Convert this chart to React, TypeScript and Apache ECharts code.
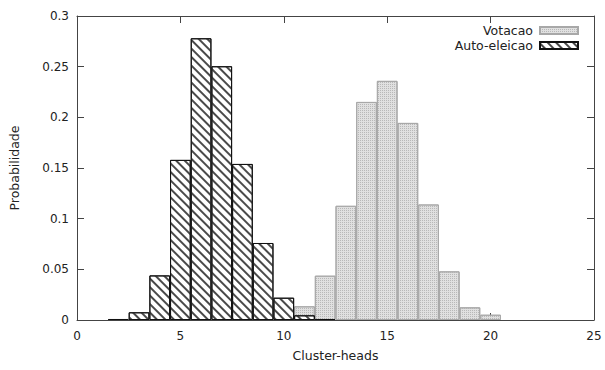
import React, { useEffect, useRef } from "react";
import * as echarts from "echarts";

const votacaoX = [11, 12, 13, 14, 15, 16, 17, 18, 19, 20];
const votacaoY = [0.0135, 0.0437, 0.1127, 0.2152, 0.236, 0.1945, 0.114, 0.048, 0.0125, 0.0052];
const autoX = [2, 3, 4, 5, 6, 7, 8, 9, 10, 11, 12];
const autoY = [0.001, 0.0076, 0.044, 0.158, 0.278, 0.2504, 0.154, 0.076, 0.022, 0.0046, 0.001];
const xTicks = { min: 0, max: 25, interval: 5 };
const yTicks = { min: 0, max: 0.3, interval: 0.05 };

const FONT = "DejaVu Sans";

export default function App() {
  const ref = useRef<HTMLDivElement>(null);
  useEffect(() => {
    if (!ref.current) return;
    const chart = echarts.init(ref.current, null, { renderer: "svg" });
    const gridLeft = 77, gridRight = 11;
    const unit = (605 - gridLeft - gridRight) / (xTicks.max - xTicks.min);
    const axisColor = "#444";
    const textStyle = { color: "#222", fontFamily: FONT, fontSize: 12 };
    const bigText = { ...textStyle, fontSize: 12.5 };
    const votDecal = {
      symbol: "rect",
      symbolSize: 1,
      color: "#b8b8b8",
      dashArrayX: [1, 1],
      dashArrayY: [1, 1],
      rotation: 0,
    };
    const autoDecal = {
      symbol: "rect",
      symbolSize: 1,
      color: "#4a4a4a",
      dashArrayX: [1, 0],
      dashArrayY: [1.2, 3.9],
      rotation: Math.PI / 4,
    };
    const baseX = {
      type: "value" as const,
      ...xTicks,
      axisLine: { show: true, onZero: false, lineStyle: { color: axisColor, width: 1 } },
      axisTick: { show: true, inside: true, length: 7, lineStyle: { color: axisColor } },
      splitLine: { show: false },
    };
    const baseY = {
      type: "value" as const,
      ...yTicks,
      axisLine: { show: true, onZero: false, lineStyle: { color: axisColor, width: 1 } },
      axisTick: { show: true, inside: true, length: 7, lineStyle: { color: axisColor } },
      splitLine: { show: false },
    };
    const legendBase = {
      orient: "vertical",
      align: "right",
      right: 26,
      itemWidth: 38,
      itemHeight: 7,
      itemGap: 0,
      padding: 0,
      icon: "rect",
      textStyle: { ...bigText, padding: [0, 2, 0, 0] },
      selectedMode: false,
    };
    chart.setOption({
      animation: false,
      backgroundColor: "#fff",
      textStyle: { fontFamily: FONT },
      grid: { left: gridLeft, right: gridRight, top: 16, bottom: 50 },
      legend: [
        { ...legendBase, data: ["Votacao"], top: 24 },
        { ...legendBase, data: ["Auto-eleicao"], top: 39 },
      ],
      xAxis: [
        {
          ...baseX,
          position: "bottom",
          name: "Cluster-heads",
          nameLocation: "middle",
          nameGap: 29,
          nameTextStyle: bigText,
          axisLabel: { ...textStyle, margin: 10 },
        },
        {
          ...baseX,
          position: "top",
          axisLabel: { show: false },
        },
      ],
      yAxis: [
        {
          ...baseY,
          position: "left",
          name: "Probabilidade",
          nameLocation: "middle",
          nameGap: 56,
          nameTextStyle: bigText,
          axisLabel: { ...textStyle, margin: 8 },
        },
        {
          ...baseY,
          position: "right",
          axisLabel: { show: false },
        },
      ],
      series: [
        {
          name: "Votacao",
          type: "bar",
          xAxisIndex: 0,
          yAxisIndex: 0,
          barWidth: unit,
          barGap: "-100%",
          data: votacaoX.map((x, i) => [x, votacaoY[i]]),
          itemStyle: {
            color: "#e0e0e0",
            borderColor: "#a8a8a8",
            borderWidth: 1,
            decal: votDecal,
          },
        },
        {
          name: "Auto-eleicao",
          type: "bar",
          xAxisIndex: 0,
          yAxisIndex: 0,
          barWidth: unit,
          barGap: "-100%",
          data: autoX.map((x, i) => [x, autoY[i]]),
          itemStyle: {
            color: "#fff",
            borderColor: "#111",
            borderWidth: 1,
            decal: autoDecal,
          },
        },
      ],
    });
    return () => chart.dispose();
  }, []);
  return (
    <div
      ref={ref}
      style={{ position: "fixed", left: 0, top: 0, width: 605, height: 370 }}
    />
  );
}
